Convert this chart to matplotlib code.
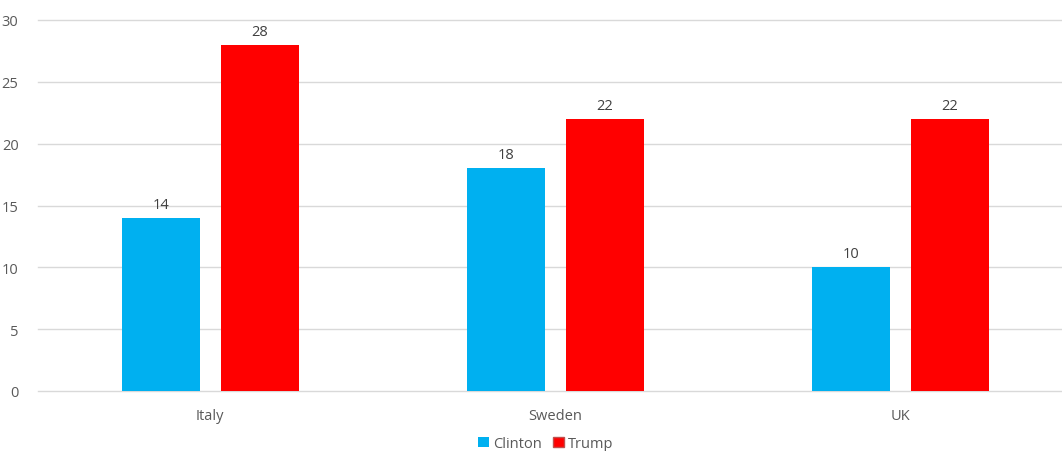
import numpy as np
import matplotlib.pyplot as plt

# data
countries = ['Italy', 'Sweden', 'UK']
clinton = [14, 18, 10]
trump = [28, 22, 22]
yticks = [0, 5, 10, 15, 20, 25, 30]

plt.rcParams['font.family'] = ['Open Sans', 'DejaVu Sans']

fig = plt.figure(figsize=(10.62, 4.52), dpi=100)
ax = fig.add_axes([38 / 1062, 60 / 452, 1 - 38 / 1062, 371 / 452])

x = np.arange(len(countries))
w = 0.226
b1 = ax.bar(x - 0.142, clinton, w, color='#00B0F0', label='Clinton', zorder=3)
b2 = ax.bar(x + 0.145, trump, w, color='#FF0000', label='Trump', zorder=3)

for bars in (b1, b2):
    for r in bars:
        ax.text(r.get_x() + r.get_width() / 2, r.get_height() + 0.5,
                f'{r.get_height():.0f}', ha='center', va='bottom',
                fontsize=10.5, color='#404040')

ax.set_xlim(-0.4986, 2.4696)
ax.set_ylim(0, 30)
ax.set_yticks(yticks)
ax.set_xticks(x)
ax.set_xticklabels(countries)
ax.tick_params(axis='both', length=0, labelsize=10.5, labelcolor='#595959')
ax.tick_params(axis='x', pad=12)
ax.tick_params(axis='y', pad=14)
ax.grid(axis='y', color='#D9D9D9', lw=1, zorder=0)
for gl in ax.get_ygridlines():
    gl.set_clip_on(False)
for s in ax.spines.values():
    s.set_visible(False)

leg = fig.legend(handles=[b1, b2], loc='lower center', bbox_to_anchor=(0.514, -0.03),
                 ncol=2, frameon=False, fontsize=10.5, handlelength=0.7,
                 handleheight=0.7, handletextpad=0.3, columnspacing=0.8,
                 labelcolor='#595959')
leg.legend_handles[1].set_edgecolor('#C0504D')

plt.savefig('out.png', dpi=100)
